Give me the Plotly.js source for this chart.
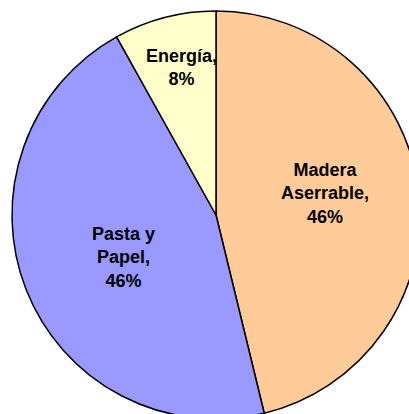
<!DOCTYPE html>
<html>
<head>
<meta charset="utf-8">
<script src="https://cdn.plot.ly/plotly-3.0.1.min.js"></script>
<style>
html, body { margin: 0; padding: 0; overflow: hidden; background: #fff; }
#chart { width: 432px; height: 430px; }
</style>
</head>
<body>
<div id="chart"></div>
<script>
const labels = ["Madera Aserrable", "Pasta y Papel", "Energía"];
const displayLabels = ["Madera<br>Aserrable,", "Pasta y<br>Papel,", "Energía,"];
const values = [46.2, 45.7, 8.1];
const colors = ["#FFCC99", "#9999FF", "#FFFFCC"];
// label anchor points (pixels within 432x430 figure)
const labelPos = [[325, 193], [123, 257], [181, 67]];

const W = 432, H = 430;
const total = values.reduce((a, b) => a + b, 0);

const trace = {
  type: "pie",
  labels: labels,
  values: values,
  sort: false,
  direction: "clockwise",
  rotation: 0,
  textinfo: "none",
  hoverinfo: "label+percent",
  marker: { colors: colors, line: { color: "#000", width: 1.5 } },
  domain: { x: [12 / W, 420 / W], y: [11 / H, 419 / H] },
  showlegend: false
};

const annotations = labels.map((l, i) => ({
  xref: "paper", yref: "paper",
  x: labelPos[i][0] / W, y: 1 - labelPos[i][1] / H,
  xanchor: "center", yanchor: "middle",
  showarrow: false,
  align: "center",
  text: "<b>" + displayLabels[i] + "<br>" + Math.round(values[i] / total * 100) + "%</b>",
  font: { family: "Liberation Sans, Arial, sans-serif", size: 18, color: "#000" }
}));

Plotly.newPlot("chart", [trace], {
  width: W, height: H,
  margin: { l: 0, r: 0, t: 0, b: 0 },
  paper_bgcolor: "#fff",
  annotations: annotations
}, { displayModeBar: false, staticPlot: true });
</script>
</body>
</html>
